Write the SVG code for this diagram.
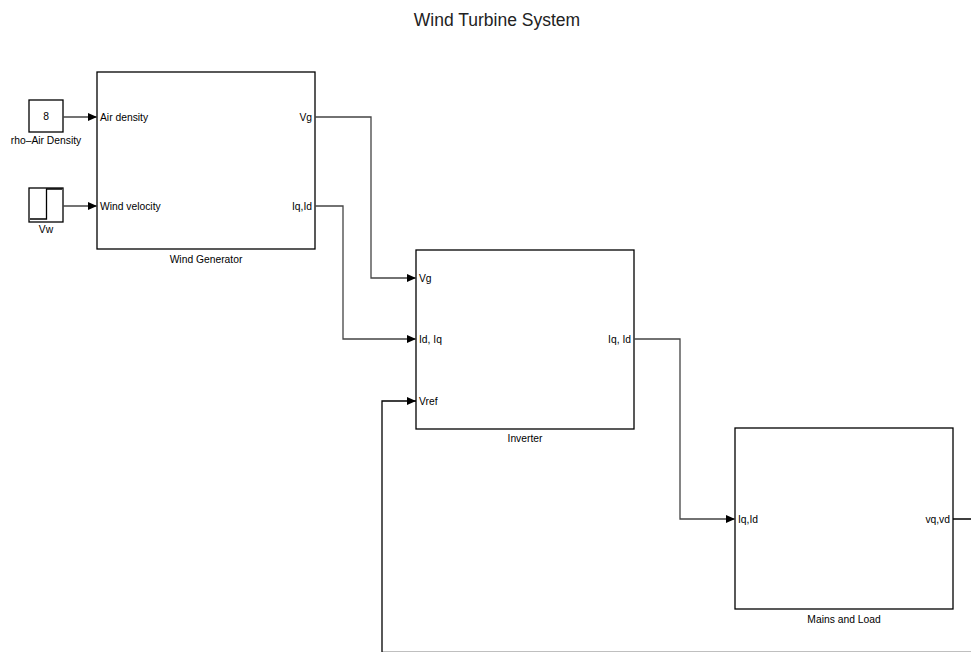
<svg xmlns="http://www.w3.org/2000/svg" width="971" height="652" viewBox="0 0 971 652">
<defs>
<marker id="arr" markerWidth="10" markerHeight="9" refX="9" refY="4" orient="auto" markerUnits="userSpaceOnUse">
<path d="M0,0 L9,4 L0,8 z" fill="#000"/>
</marker>
<style>
.blk{fill:#fff;stroke:#000;stroke-width:1.3}
.lbl{font-family:"Liberation Sans",Arial,sans-serif;font-size:10.3px;fill:#000}
.ttl{font-family:"Liberation Sans",Arial,sans-serif;font-size:17.5px;fill:#222}
.con{fill:none;stroke:#444;stroke-width:1.3}
</style>
</defs>
<rect width="971" height="652" fill="#fff"/>
<text class="ttl" x="497" y="26" text-anchor="middle">Wind Turbine System</text>

<g id="rho">
<rect class="blk" x="29" y="100" width="34" height="32"/>
<text class="lbl" x="46" y="119.5" text-anchor="middle">8</text>
<text class="lbl" x="46" y="144" text-anchor="middle">rho–Air Density</text>
</g>

<g id="vw">
<rect class="blk" x="29" y="188" width="34" height="34"/>
<path d="M30,219 H46.5 V189 H62" fill="none" stroke="#000" stroke-width="1.3"/>
<text class="lbl" x="46" y="233" text-anchor="middle">Vw</text>
</g>

<g id="windgen">
<rect class="blk" x="97" y="72" width="218" height="177"/>
<text class="lbl" x="100" y="120.5">Air density</text>
<text class="lbl" x="100" y="209.5">Wind velocity</text>
<text class="lbl" x="312" y="120.5" text-anchor="end">Vg</text>
<text class="lbl" x="312" y="209.5" text-anchor="end">Iq,Id</text>
<text class="lbl" x="206" y="262.5" text-anchor="middle">Wind Generator</text>
</g>

<g id="inverter">
<rect class="blk" x="416" y="250" width="218" height="179"/>
<text class="lbl" x="419" y="281.5">Vg</text>
<text class="lbl" x="419" y="342.5">Id, Iq</text>
<text class="lbl" x="419" y="404.5">Vref</text>
<text class="lbl" x="631" y="342.5" text-anchor="end">Iq, Id</text>
<text class="lbl" x="525" y="441.5" text-anchor="middle">Inverter</text>
</g>

<g id="mains">
<rect class="blk" x="735" y="428" width="218" height="181"/>
<text class="lbl" x="738" y="522.5">Iq,Id</text>
<text class="lbl" x="950" y="522.5" text-anchor="end">vq,vd</text>
<text class="lbl" x="844" y="622.5" text-anchor="middle">Mains and Load</text>
</g>

<g id="connectors">
<path class="con" d="M63,117 H97" marker-end="url(#arr)"/>
<path class="con" d="M63,206 H97" marker-end="url(#arr)"/>
<path class="con" d="M315,117 H371 V278 H416" marker-end="url(#arr)"/>
<path class="con" d="M315,206 H343 V339 H416" marker-end="url(#arr)"/>
<path class="con" d="M634,339 H680 V519 H735" marker-end="url(#arr)"/>
<path class="con" d="M953,519 H995 V652.3 H382 V401 H416" style="stroke:#000" marker-end="url(#arr)"/>
</g>
</svg>
